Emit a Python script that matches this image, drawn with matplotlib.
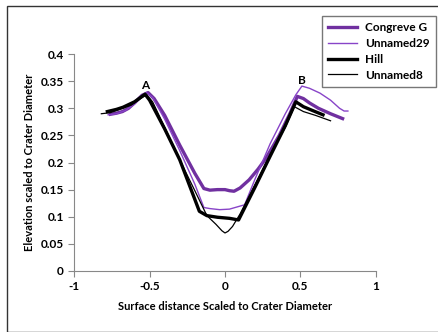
import matplotlib.pyplot as plt
from matplotlib.patches import Rectangle

plt.rcParams['font.family'] = ['Lato', 'DejaVu Sans']
plt.rcParams['font.weight'] = 'bold'

# Congreve G (thick purple)
cg_x = [-0.76, -0.72, -0.68, -0.64, -0.60, -0.55, -0.51, -0.47, -0.40, -0.30, -0.20, -0.14,
        -0.10, -0.05, 0.00, 0.03, 0.06, 0.10, 0.16, 0.22, 0.27, 0.36, 0.43, 0.48,
        0.52, 0.56, 0.62, 0.70, 0.78]
cg_y = [0.289, 0.291, 0.294, 0.300, 0.310, 0.324, 0.329, 0.318, 0.287, 0.232, 0.180, 0.152,
        0.149, 0.150, 0.150, 0.148, 0.147, 0.153, 0.168, 0.188, 0.207, 0.250, 0.290, 0.322,
        0.318, 0.310, 0.300, 0.290, 0.281]

# Unnamed29 (thin purple)
u29_x = [-0.775, -0.72, -0.66, -0.60, -0.55, -0.52, -0.48, -0.40, -0.30, -0.20, -0.14,
         -0.10, -0.035, 0.03, 0.08, 0.13, 0.20, 0.30, 0.40, 0.47, 0.51,
         0.56, 0.63, 0.70, 0.76, 0.79, 0.815]
u29_y = [0.288, 0.290, 0.296, 0.308, 0.322, 0.329, 0.320, 0.280, 0.222, 0.160, 0.117,
         0.115, 0.113, 0.114, 0.118, 0.122, 0.170, 0.235, 0.290, 0.325, 0.341,
         0.337, 0.328, 0.315, 0.300, 0.295, 0.295]

# Hill (thick black)
hill_x = [-0.78, -0.72, -0.676, -0.60, -0.53, -0.50, -0.40, -0.30, -0.17, -0.12,
          -0.05, 0.03, 0.09, 0.20, 0.30, 0.40, 0.47, 0.52, 0.58, 0.65]
hill_y = [0.294, 0.298, 0.302, 0.312, 0.326, 0.315, 0.262, 0.205, 0.110, 0.102,
          0.099, 0.097, 0.094, 0.155, 0.212, 0.268, 0.312, 0.303, 0.296, 0.288]

# Unnamed8 (thin black)
u8_x = [-0.82, -0.76, -0.70, -0.62, -0.56, -0.52, -0.48, -0.40, -0.30, -0.20, -0.12,
        -0.06, -0.02, 0.00, 0.02, 0.05, 0.10, 0.20, 0.30, 0.40, 0.46, 0.52, 0.60, 0.70]
u8_y = [0.290, 0.292, 0.298, 0.306, 0.318, 0.325, 0.312, 0.265, 0.205, 0.148, 0.102,
        0.086, 0.074, 0.070, 0.073, 0.082, 0.105, 0.160, 0.215, 0.265, 0.303, 0.294, 0.287, 0.277]

labels = ['Congreve G', 'Unnamed29', 'Hill', 'Unnamed8']

fig = plt.figure(figsize=(4.39, 3.32), dpi=100)
ax = fig.add_axes([0.169, 0.184, 0.687, 0.653])

ax.plot(cg_x, cg_y, color='#7030A0', lw=2.4, label=labels[0], solid_joinstyle='round')
ax.plot(u29_x, u29_y, color='#8844C8', lw=1.0, label=labels[1])
ax.plot(hill_x, hill_y, color='black', lw=2.4, label=labels[2], solid_joinstyle='round')
ax.plot(u8_x, u8_y, color='black', lw=0.9, label=labels[3])

ax.text(-0.53, 0.343, 'A', ha='center', va='center', fontsize=8.5, fontweight='bold')
ax.text(0.51, 0.352, 'B', ha='center', va='center', fontsize=8.5, fontweight='bold')

ax.set_xlim(-1, 1)
ax.set_ylim(0, 0.4)
ax.set_xticks([-1, -0.5, 0, 0.5, 1])
ax.set_xticklabels(['-1', '-0.5', '0', '0.5', '1'])
ax.set_yticks([0, 0.05, 0.1, 0.15, 0.2, 0.25, 0.3, 0.35, 0.4])
ax.set_yticklabels(['0', '0.05', '0.1', '0.15', '0.2', '0.25', '0.3', '0.35', '0.4'])
ax.tick_params(labelsize=8.5, color='#888888', length=4, width=0.8)
for s in ['top', 'right']:
    ax.spines[s].set_visible(False)
for s in ['left', 'bottom']:
    ax.spines[s].set_color('#888888')
    ax.spines[s].set_linewidth(0.8)

ax.set_xlabel('Surface distance Scaled to Crater Diameter', fontsize=8, fontweight='bold', labelpad=6)
ax.set_ylabel('Elevation scaled to Crater Diameter', fontsize=8, fontweight='bold', labelpad=4)

leg = fig.legend(loc='upper left', bbox_to_anchor=(0.733, 0.952), borderaxespad=0, fontsize=8.5,
                 frameon=True, fancybox=False, handlelength=2.4, borderpad=0.55,
                 labelspacing=0.4, handletextpad=0.7)
leg.get_frame().set_edgecolor('#555555')
leg.get_frame().set_linewidth(1.0)

fig.patches.append(Rectangle((7 / 439, 0), 1.2, 1 - 6 / 332, transform=fig.transFigure,
                             fill=False, edgecolor='#333333', lw=1.0))

fig.savefig('out.png', dpi=100)
